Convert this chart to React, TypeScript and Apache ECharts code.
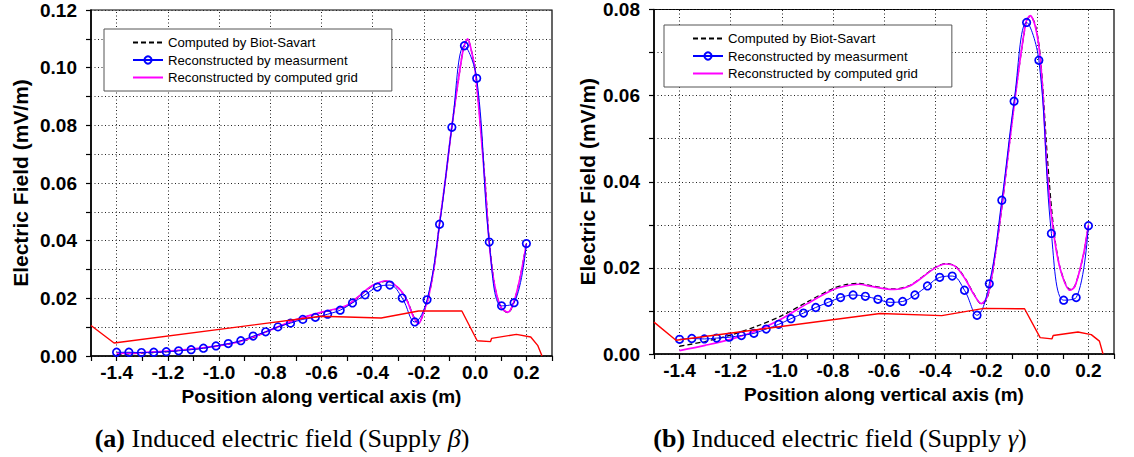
import React, { useEffect, useRef } from "react";
import * as echarts from "echarts";

// ---------- data ----------
const legendNames = [
  "Computed by Biot-Savart",
  "Reconstructed by measurment",
  "Reconstructed by computed grid",
];
const xGridTicks = [-1.4, -1.2, -1.0, -0.8, -0.6, -0.4, -0.2, 0.0, 0.2];

// measurement positions (34 points)
const measX = [
  -1.4, -1.352, -1.303, -1.255, -1.206, -1.158, -1.109, -1.061, -1.012, -0.964,
  -0.915, -0.867, -0.818, -0.77, -0.721, -0.673, -0.624, -0.576, -0.527, -0.479,
  -0.43, -0.382, -0.333, -0.285, -0.236, -0.188, -0.139, -0.091, -0.042, 0.006,
  0.055, 0.103, 0.152, 0.2,
];
const measBeta = [
  0.0013, 0.0013, 0.0012, 0.0013, 0.0015, 0.0018, 0.0022, 0.0027, 0.0035, 0.0043,
  0.0053, 0.0069, 0.0084, 0.0101, 0.0114, 0.0127, 0.0134, 0.0145, 0.0159, 0.0184,
  0.0212, 0.0239, 0.0246, 0.0201, 0.0118, 0.0195, 0.0457, 0.0793, 0.1076, 0.0963,
  0.0395, 0.0174, 0.0185, 0.039,
];
const measGamma = [
  0.0034, 0.0036, 0.0035, 0.0037, 0.0039, 0.0043, 0.0048, 0.0058, 0.0069, 0.0082,
  0.0095, 0.0108, 0.012, 0.0131, 0.0137, 0.0134, 0.0127, 0.012, 0.0122, 0.0137,
  0.0158, 0.0178, 0.0181, 0.0148, 0.009, 0.0163, 0.0357, 0.0587, 0.077, 0.0682,
  0.028, 0.0125, 0.0131, 0.0298,
];

// computed-grid / Biot-Savart curves
const curveBetaX = [
  -1.4, -1.3, -1.2, -1.1, -1.0, -0.9, -0.8, -0.7, -0.6, -0.55, -0.5, -0.45, -0.4,
  -0.345, -0.3, -0.267, -0.241, -0.221, -0.2, -0.182, -0.16, -0.139, -0.115,
  -0.092, -0.065, -0.045, -0.029, -0.015, 0.0, 0.02, 0.04, 0.055, 0.075, 0.1,
  0.128, 0.15, 0.175, 0.2,
];
const gridBeta = [
  0.0009, 0.0012, 0.0017, 0.0025, 0.0036, 0.0055, 0.009, 0.0126, 0.0152, 0.0162,
  0.0176, 0.021, 0.0245, 0.0261, 0.0236, 0.0194, 0.0136, 0.0112, 0.0155, 0.0205,
  0.031, 0.046, 0.062, 0.079, 0.096, 0.107, 0.11, 0.106, 0.099, 0.08, 0.058, 0.039,
  0.025, 0.017, 0.0152, 0.0185, 0.027, 0.039,
];
const biotBeta = [
  0.0005, 0.001, 0.0015, 0.0024, 0.0035, 0.0054, 0.0089, 0.0125, 0.0151, 0.0161,
  0.0175, 0.0209, 0.0244, 0.026, 0.0236, 0.0195, 0.0138, 0.0113, 0.0154, 0.0204,
  0.031, 0.046, 0.062, 0.079, 0.096, 0.107, 0.1098, 0.106, 0.099, 0.081, 0.059,
  0.04, 0.025, 0.017, 0.015, 0.0183, 0.027, 0.039,
];
const curveGammaX = [
  -1.4, -1.3, -1.2, -1.1, -1.0, -0.9, -0.8, -0.75, -0.7, -0.65, -0.6, -0.56, -0.5,
  -0.45, -0.4, -0.359, -0.32, -0.282, -0.249, -0.219, -0.2, -0.185, -0.16, -0.136,
  -0.089, -0.045, -0.028, -0.01, 0.007, 0.02, 0.04, 0.064, 0.09, 0.128, 0.147,
  0.179, 0.2,
];
const gridGamma = [
  0.0008, 0.002, 0.0034, 0.0054, 0.0082, 0.0117, 0.0149, 0.0158, 0.0162, 0.0157,
  0.0152, 0.015, 0.0158, 0.0178, 0.02, 0.0209, 0.0203, 0.0174, 0.0139, 0.0117,
  0.0128, 0.0158, 0.025, 0.0357, 0.0586, 0.077, 0.0786, 0.0765, 0.071, 0.062,
  0.041, 0.028, 0.0197, 0.0148, 0.0157, 0.0227, 0.03,
];
const biotGamma = [
  0.0018, 0.0029, 0.0044, 0.0064, 0.0089, 0.0121, 0.0152, 0.0161, 0.0164, 0.0159,
  0.0153, 0.0151, 0.0159, 0.0179, 0.0201, 0.021, 0.0204, 0.0175, 0.014, 0.0116,
  0.0126, 0.0155, 0.0248, 0.0355, 0.0586, 0.0768, 0.0784, 0.0768, 0.0715, 0.063,
  0.045, 0.029, 0.0198, 0.015, 0.0158, 0.0226, 0.0299,
];

// red reference lines
const redBetaX = [-1.5, -1.41, -0.603, -0.367, -0.221, -0.052, 0.008, 0.06, 0.064, 0.161, 0.217, 0.244, 0.261];
const redBetaY = [0.0106, 0.0045, 0.0138, 0.0132, 0.0156, 0.0156, 0.0053, 0.005, 0.0061, 0.0075, 0.0066, 0.0037, 0.0];
const redGammaX = [-1.5, -1.414, -0.615, -0.374, -0.209, -0.05, 0.011, 0.057, 0.062, 0.159, 0.211, 0.243, 0.257];
const redGammaY = [0.0074, 0.0032, 0.0094, 0.0089, 0.0106, 0.0105, 0.0038, 0.0035, 0.0043, 0.0051, 0.0045, 0.003, 0.0];

const yMax = [0.12, 0.08];
const captionLetters = ["(a)", "(b)"];
const captionSymbols = ["β", "γ"];

// ---------- chart ----------
const SANS = "Liberation Sans, Arial, sans-serif";
const SERIF = "Liberation Serif, Times New Roman, serif";
const zip = (xs: number[], ys: number[]) => xs.map((x, i) => [x, ys[i]]);

const panels = [
  { grid: { left: 91, top: 10, width: 461, height: 346 }, legend: { left: 104, top: 29 }, nameGap: 60, meas: measBeta, cx: curveBetaX, grid2: gridBeta, biot: biotBeta, rx: redBetaX, ry: redBetaY, capX: 282 },
  { grid: { left: 654, top: 6, width: 460, height: 348 }, legend: { left: 664, top: 25 }, nameGap: 56, meas: measGamma, cx: curveGammaX, grid2: gridGamma, biot: biotGamma, rx: redGammaX, ry: redGammaY, capX: 840 },
];

function buildOption() {
  const dotted = { type: [1, 2.5] as any, color: "#222", width: 1 };
  const grids: any[] = [];
  const xAxes: any[] = [];
  const yAxes: any[] = [];
  const legends: any[] = [];
  const series: any[] = [];
  const graphics: any[] = [];

  panels.forEach((p, i) => {
    grids.push({ ...p.grid, show: true, borderColor: "#000", borderWidth: 1.2, backgroundColor: "transparent" });
    xAxes.push({
      type: "value",
      gridIndex: i,
      min: -1.5,
      max: 0.3,
      interval: 0.1,
      axisLine: { show: true, onZero: false, lineStyle: { color: "#000", width: 1.6 } },
      axisTick: { show: true, length: 5, lineStyle: { color: "#000", width: 1.2 } },
      axisLabel: {
        color: "#000",
        fontFamily: SANS,
        fontWeight: "bold",
        fontSize: 19,
        margin: 7,
        formatter: (v: number) => (Math.round(v * 10) % 2 === 0 ? v.toFixed(1) : ""),
      },
      splitLine: { show: false },
      name: "Position along vertical axis (m)",
      nameLocation: "middle",
      nameGap: 29,
      nameTextStyle: { color: "#000", fontFamily: SANS, fontWeight: "bold", fontSize: 19 },
    });
    yAxes.push({
      type: "value",
      gridIndex: i,
      min: 0,
      max: yMax[i],
      interval: 0.01,
      axisLine: { show: true, onZero: false, lineStyle: { color: "#000", width: 1.6 } },
      axisTick: { show: true, length: 5, lineStyle: { color: "#000", width: 1.2 } },
      axisLabel: {
        color: "#000",
        fontFamily: SANS,
        fontWeight: "bold",
        fontSize: 19,
        margin: 14,
        formatter: (v: number) => (Math.round(v * 100) % 2 === 0 ? v.toFixed(2) : ""),
      },
      splitLine: { show: true, lineStyle: dotted },
      name: "Electric Field (mV/m)",
      nameLocation: "middle",
      nameGap: p.nameGap,
      nameTextStyle: { color: "#000", fontFamily: SANS, fontWeight: "bold", fontSize: 21 },
    });
    legends.push({
      ...p.legend,
      orient: "vertical",
      data: [
        { name: legendNames[0], itemStyle: { opacity: 0 } },
        { name: legendNames[1] },
        { name: legendNames[2], itemStyle: { opacity: 0 } },
      ],
      itemWidth: 30,
      itemHeight: 9,
      itemGap: 4.5,
      padding: [7, 34, 7, 28],
      borderColor: "#555",
      borderWidth: 1,
      backgroundColor: "#fff",
      selectedMode: false,
      textStyle: { color: "#000", fontFamily: SANS, fontSize: 13.2 },
    });
    series.push(
      {
        name: legendNames[0],
        type: "line",
        xAxisIndex: i,
        yAxisIndex: i,
        data: zip(p.cx, p.biot),
        smooth: 0.3,
        symbol: "none",
        lineStyle: { color: "#000", width: 1.3, type: [5, 3] },
        itemStyle: { color: "#000" },
        z: 2,
      },
      {
        name: legendNames[2],
        type: "line",
        xAxisIndex: i,
        yAxisIndex: i,
        data: zip(p.cx, p.grid2),
        smooth: 0.3,
        symbol: "none",
        lineStyle: { color: "#ff00ff", width: 1.7 },
        itemStyle: { color: "#ff00ff" },
        z: 3,
      },
      {
        name: legendNames[1],
        type: "line",
        xAxisIndex: i,
        yAxisIndex: i,
        data: zip(measX, p.meas),
        smooth: 0.4,
        symbol: "circle",
        symbolSize: 7.5,
        itemStyle: { color: "rgba(255,255,255,0)", borderColor: "#0000ff", borderWidth: 1.7 },
        lineStyle: { color: "#0000ff", width: 1 },
        z: 4,
      },
      {
        name: "ref" + i,
        type: "line",
        xAxisIndex: i,
        yAxisIndex: i,
        data: zip(p.rx, p.ry),
        symbol: "none",
        lineStyle: { color: "#ff0000", width: 1.4 },
        itemStyle: { color: "#ff0000" },
        z: 5,
        markLine: {
          silent: true,
          symbol: ["none", "none"],
          label: { show: false },
          lineStyle: dotted,
          z: 1,
          data: xGridTicks.map((v) => ({ xAxis: v })),
        },
      }
    );
    graphics.push({
      type: "text",
      x: p.capX,
      y: 438,
      style: {
        text: `{b|${captionLetters[i]}}{n| Induced electric field (Supply }{i|${captionSymbols[i]}}{n|)}`,
        align: "center",
        verticalAlign: "middle",
        fill: "#000",
        rich: {
          b: { fontFamily: SERIF, fontSize: 26, fontWeight: "bold", fill: "#000" },
          n: { fontFamily: SERIF, fontSize: 26, fill: "#000" },
          i: { fontFamily: SERIF, fontSize: 26, fontStyle: "italic", fill: "#000" },
        },
      },
    });
  });

  return {
    animation: false,
    backgroundColor: "#fff",
    grid: grids,
    xAxis: xAxes,
    yAxis: yAxes,
    legend: legends,
    series,
    graphic: graphics,
  };
}

export default function App() {
  const ref = useRef<HTMLDivElement>(null);
  useEffect(() => {
    if (!ref.current) return;
    const chart = echarts.init(ref.current, undefined, { renderer: "svg" });
    chart.setOption(buildOption() as any);
    return () => chart.dispose();
  }, []);
  return (
    <div
      ref={ref}
      style={{ position: "fixed", left: 0, top: 0, width: 1134, height: 457, background: "#fff" }}
    />
  );
}
